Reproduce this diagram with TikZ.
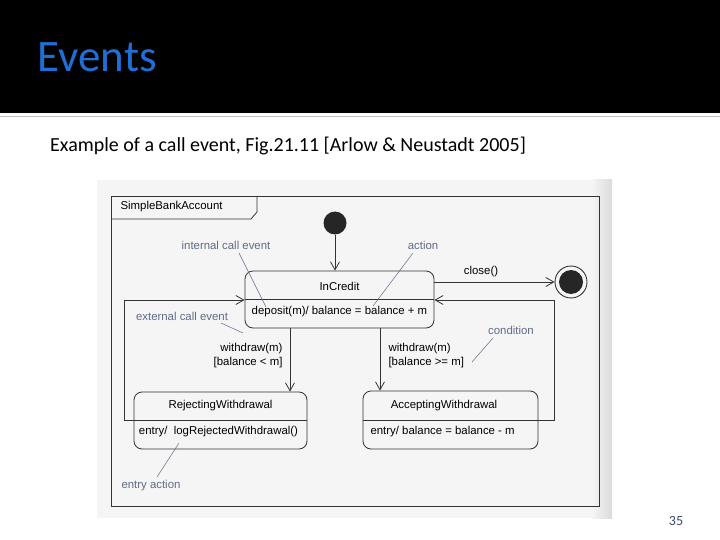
\documentclass[tikz,border=0pt]{standalone}
\usepackage{fontspec}
\setmainfont{Liberation Sans}
\newfontfamily\slidefont{Carlito}
\usetikzlibrary{arrows.meta,calc}
\definecolor{titleblue}{RGB}{31,111,214}
\definecolor{notegray}{RGB}{95,108,135}
\definecolor{pagegray}{RGB}{60,75,105}

\begin{document}
\begin{tikzpicture}[x=1pt,y=-1pt,font=\fontsize{11.4}{14}\selectfont,
  >={Straight Barb[length=8pt,width=9pt]},
  line/.style={draw=black!80,line width=0.8pt},
  state/.style={line,rounded corners=8pt,inner sep=0pt},
  note/.style={text=notegray,inner sep=1pt},
  noteline/.style={draw=notegray,line width=0.5pt},
  trans/.style={line,->}]
  \useasboundingbox (0,0) rectangle (720,540);
  % slide header
  \fill[black] (0,0) rectangle (720,113);
  \draw[black!25,line width=1pt] (0,116.5) -- (720,116.5);
  \node[anchor=base west,inner sep=0pt,text=titleblue,font=\slidefont\fontsize{45}{50}\selectfont] (title) at (37.5,72) {Events};
  \node[anchor=base west,inner sep=0pt,font=\slidefont\fontsize{20}{24}\selectfont] (sub) at (50,152) {Example of a call event, Fig.21.11 [Arlow \& Neustadt 2005]};
  % scanned figure
  \fill[black!4] (97,180) rectangle (612,518);
  \shade[left color=black!4,right color=black!14] (592,180) rectangle (612,518);
  \draw[line] (111,196) rectangle (599,506);
  \draw[line] (111,219) -- (251,219) -- (257,212) -- (257,196);
  \node[anchor=west] (frname) at (117,207) {SimpleBankAccount};
  % states
  \node[circle,fill=black!85,minimum size=23pt,inner sep=0pt] (init) at (335,223) {};
  \node[circle,line,line width=0.9pt,minimum size=32pt,inner sep=0pt] (final) at (571,282) {};
  \node[circle,fill=black!85,minimum size=24pt,inner sep=0pt] (finaldot) at (final.center) {};
  \node[state,minimum width=189pt,minimum height=57pt] (inc) at (339.5,299.5) {};
  \draw[line] (inc.west) -- (inc.east);
  \node (incname) at (339.5,286) {InCredit};
  \node (incdo) at (339.5,312) {deposit(m)/ balance = balance + m};
  \node[state,minimum width=173pt,minimum height=57pt] (rej) at (220.5,420.5) {};
  \draw[line] (rej.west) -- (rej.east);
  \node (rejname) at (220.5,406) {RejectingWithdrawal};
  \node (rejentry) at (218.5,432) {entry/ \ logRejectedWithdrawal()};
  \node[state,minimum width=175pt,minimum height=58pt] (acc) at (450.5,420) {};
  \draw[line] (acc.west) -- (acc.east);
  \node (accname) at (444,406) {AcceptingWithdrawal};
  \node[anchor=west] (accentry) at (367,432) {entry/ balance = balance - m};
  % transitions
  \draw[trans] (init) -- (init |- inc.north);
  \draw[trans] (inc.east |- final) -- (final.west);
  \node (closelbl) at (481,272) {close()};
  \draw[trans] ([xshift=-49.5pt]inc.south) -- ([xshift=-49.5pt]inc.south |- rej.north);
  \node[anchor=east,align=right] (wlow) at (286,356) {withdraw(m)\\ {[balance < m]}};
  \draw[trans] ([xshift=40.5pt]inc.south) -- ([xshift=40.5pt]inc.south |- acc.north);
  \node[anchor=west,align=left] (whigh) at (385,356) {withdraw(m)\\ {[balance >= m]}};
  \coordinate (rloop) at (554,300);
  \draw[trans] (acc.east) -| (rloop) -- (inc.east |- rloop);
  \coordinate (lloop) at (124,300);
  \draw[trans] (rej.west) -| (lloop) -- (inc.west |- lloop);
  % annotations
  \foreach \i/\txt/\x/\y/\ax/\ay/\bx/\by in {
      1/internal call event/226/245/239/253/266/307,
      2/action/423/245/413/253/373/306,
      3/external call event/182/316/221/323/243/333,
      4/condition/511/330/493/338/472/362,
      5/entry action/151/486/157/477/179/443}{
    \node[note] (note\i) at (\x,\y) {\txt};
    \coordinate (tip\i) at (\bx,\by);
    \draw[noteline] (\ax,\ay) -- (tip\i);}
  % page number
  \node[anchor=base,inner sep=0pt,text=pagegray,font=\slidefont\fontsize{14}{16}\selectfont] (pgnum) at (676,525) {35};
\end{tikzpicture}
\end{document}
